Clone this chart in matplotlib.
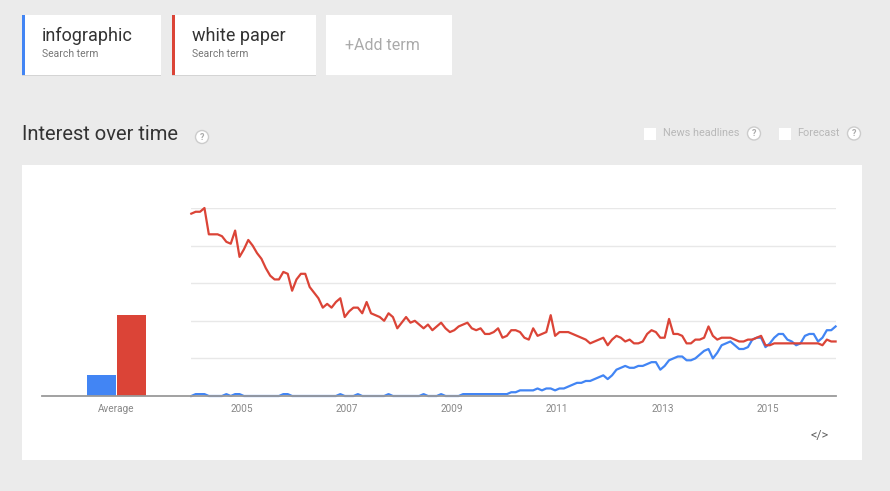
import matplotlib
matplotlib.use("Agg")
import matplotlib.pyplot as plt
from matplotlib.patches import Rectangle, Circle
import numpy as np

# ---------------- data ----------------
terms = ["infographic", "white paper"]
term_colors = ["#4285f4", "#db4437"]
start_year = 2004  # monthly data from Jan 2004
infographic = [
    0, 1, 1, 1, 0, 0, 0, 0, 1, 0,
    1, 1, 0, 0, 0, 0, 0, 0, 0, 0,
    0, 1, 1, 0, 0, 0, 0, 0, 0, 0,
    0, 0, 0, 0, 1, 0, 0, 0, 1, 0,
    0, 0, 0, 0, 0, 1, 0, 0, 0, 0,
    0, 0, 0, 1, 0, 0, 0, 1, 0, 0,
    0, 0, 1, 1, 1, 1, 1, 1, 1, 1,
    1, 1, 1, 2, 2, 3, 3, 3, 3, 4,
    3, 4, 4, 3, 4, 4, 5, 6, 7, 7,
    8, 8, 9, 10, 11, 9, 11, 14, 15, 16,
    15, 15, 16, 16, 17, 18, 18, 14, 16, 19,
    20, 21, 21, 19, 19, 20, 22, 24, 25, 20,
    23, 27, 28, 29, 27, 25, 25, 26, 30, 31,
    31, 26, 28, 31, 33, 33, 30, 29, 27, 28,
    32, 33, 33, 29, 31, 35, 35, 37,
]
white_paper = [
    97, 98, 98, 100, 86, 86, 86, 85, 82, 81,
    88, 74, 78, 83, 80, 76, 73, 68, 64, 62,
    62, 66, 65, 56, 62, 65, 65, 58, 55, 52,
    47, 49, 47, 50, 52, 42, 45, 47, 47, 44,
    50, 44, 43, 42, 40, 44, 42, 36, 39, 42,
    39, 40, 38, 36, 38, 35, 37, 39, 36, 34,
    35, 37, 38, 39, 36, 35, 36, 33, 33, 34,
    36, 31, 32, 35, 35, 34, 31, 30, 36, 32,
    33, 34, 43, 32, 34, 34, 34, 33, 32, 31,
    30, 28, 29, 30, 31, 27, 30, 32, 31, 29,
    30, 28, 28, 29, 33, 35, 34, 31, 31, 41,
    33, 33, 32, 28, 28, 30, 30, 31, 37, 32,
    30, 31, 31, 31, 30, 29, 29, 30, 30, 31,
    32, 27, 27, 28, 28, 28, 28, 28, 28, 28,
    28, 28, 28, 28, 27, 30, 29, 29,
]
averages = [11, 43]
year_ticks = [2005, 2007, 2009, 2011, 2013, 2015]
grid_values = [20, 40, 60, 80, 100]
avg_label = "Average"
title = "Interest over time"
sub_label = "Search term"
add_label = "+Add term"
option_labels = ["News headlines", "Forecast"]

# ---------------- layout ----------------
W, H = 890, 491
FONT = "Roboto"
plt.rcParams["font.family"] = [FONT, "DejaVu Sans"]

fig = plt.figure(figsize=(W / 100, H / 100), dpi=100)
fig.patch.set_facecolor("#ebebeb")

bg = fig.add_axes([0, 0, 1, 1], zorder=0)
bg.set_xlim(0, W)
bg.set_ylim(H, 0)
bg.axis("off")

# white chart panel
bg.add_patch(Rectangle((22, 165), 840, 295, facecolor="white", edgecolor="none"))

# term cards
cards = [(22, 139), (172, 144)]
for (cx, cw), term, col in zip(cards, terms, term_colors):
    bg.add_patch(Rectangle((cx, 16.5), cw, 59.5, facecolor="#d4d4d4", edgecolor="none"))
    bg.add_patch(Rectangle((cx, 15), cw, 59.5, facecolor="white", edgecolor="none"))
    bg.add_patch(Rectangle((cx, 15), 3, 59.5, facecolor=col, edgecolor="none"))
    bg.text(cx + 20, 36, term, fontsize=13, color="#333333", va="center", ha="left")
    bg.text(cx + 20, 54, sub_label, fontsize=7.5, color="#777777", va="center", ha="left")
bg.add_patch(Rectangle((326, 15), 126, 59.5, facecolor="white", edgecolor="none"))
bg.text(345, 45, add_label, fontsize=11.5, color="#aaaaaa", va="center", ha="left")

# title and help icon
bg.text(22, 135, title, fontsize=14.5, color="#333333", va="center", ha="left")


def help_icon(x, y):
    bg.add_patch(Circle((x, y), 6.5, facecolor="white", edgecolor="#cccccc", lw=1.0))
    bg.text(x, y + 0.5, "?", fontsize=6.5, color="#aaaaaa", ha="center", va="center",
            fontweight="bold")


help_icon(202, 137)

# option checkboxes
for (bx, tx, hx), lab in zip([(644, 663, 754), (779, 797, 854)], option_labels):
    bg.add_patch(Rectangle((bx, 128), 11.5, 11.5, facecolor="white", edgecolor="none"))
    bg.text(tx, 133.5, lab, fontsize=7.8, color="#b8b8b8", va="center", ha="left")
    help_icon(hx, 133.5)

# embed icon
bg.text(820, 436, "</>", fontsize=9, color="#666666", ha="center", va="center")

# ---------------- plot axes ----------------
x_left, x_right = 191.3, 835.6
y_base, y_top = 396, 208
n = len(white_paper)
months = np.arange(n)

ax = fig.add_axes([x_left / W, (H - y_base) / H, (x_right - x_left) / W,
                   (y_base - y_top) / H], zorder=2)
ax.set_facecolor("none")
ax.set_xlim(0, n - 1)
ax.set_ylim(0, 100)
for v in grid_values:
    ax.axhline(v, color="#e8e8e8", lw=1.0, zorder=0)
ax.plot(months, infographic, color=term_colors[0], lw=1.6, clip_on=False,
        solid_joinstyle="round", zorder=3)
ax.plot(months, white_paper, color=term_colors[1], lw=1.6, clip_on=False,
        solid_joinstyle="round", zorder=4)
for s in ["top", "left", "right"]:
    ax.spines[s].set_visible(False)
ax.spines["bottom"].set_color("#9a9a9a")
ax.spines["bottom"].set_linewidth(1.3)
ax.spines["bottom"].set_zorder(5)
ax.set_yticks([])
ax.set_xticks([12 * (y - start_year) - 0.5 for y in year_ticks])
ax.set_xticklabels([str(y) for y in year_ticks])
ax.tick_params(axis="x", length=0, pad=6, labelsize=7.2, labelcolor="#888888")

# average bars
axb = fig.add_axes([42 / W, (H - y_base) / H, (x_left - 42) / W,
                    (y_base - y_top) / H], zorder=2)
axb.set_facecolor("none")
axb.bar(np.arange(len(averages)), averages, width=0.955, color=term_colors, zorder=3)
axb.set_xlim(-2, 3)
axb.set_ylim(0, 100)
for s in ["top", "left", "right"]:
    axb.spines[s].set_visible(False)
axb.spines["bottom"].set_color("#9a9a9a")
axb.spines["bottom"].set_linewidth(1.3)
axb.spines["bottom"].set_zorder(5)
axb.set_yticks([])
axb.set_xticks([0.5])
axb.set_xticklabels([avg_label])
axb.tick_params(axis="x", length=0, pad=6, labelsize=7.2, labelcolor="#888888")

fig.savefig("out.png", dpi=100, facecolor=fig.get_facecolor())
